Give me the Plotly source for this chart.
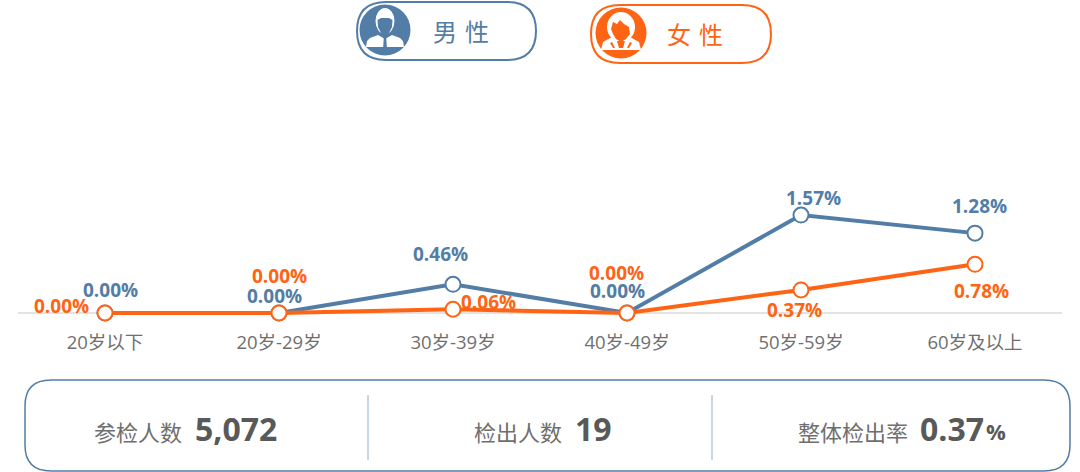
import plotly.graph_objects as go

W, H = 1080, 472
categories = ["20岁以下", "20岁-29岁", "30岁-39岁", "40岁-49岁", "50岁-59岁", "60岁及以上"]
male = [0.00, 0.00, 0.46, 0.00, 1.57, 1.28]
female = [0.00, 0.00, 0.06, 0.00, 0.37, 0.78]
male_offsets = [(5, -23), (-5, -17), (-13, -30), (-10, -22), (12, -17), (4, -27)]
female_offsets = [(-44, -7), (0, -37), (35, -7), (-11, -40), (-7, 20), (6, 27)]
stats = [("参检人数", "5,072", ""), ("检出人数", "19", ""), ("整体检出率", "0.37", "%")]

BLUE = "#527DA6"
ORANGE = "#FF6414"
GRAY = "#6F6F6F"
DARK = "#595959"
FONT = "Open Sans, Noto Sans CJK SC, sans-serif"
CJK = "Noto Sans CJK SC, sans-serif"


def px(x):
    return x / W


def py(y):
    return 1 - y / H


def rrect(x0, y0, x1, y1, r):
    return (f"M{px(x0+r)},{py(y0)} L{px(x1-r)},{py(y0)} Q{px(x1)},{py(y0)} {px(x1)},{py(y0+r)} "
            f"L{px(x1)},{py(y1-r)} Q{px(x1)},{py(y1)} {px(x1-r)},{py(y1)} "
            f"L{px(x0+r)},{py(y1)} Q{px(x0)},{py(y1)} {px(x0)},{py(y1-r)} "
            f"L{px(x0)},{py(y0+r)} Q{px(x0)},{py(y0)} {px(x0+r)},{py(y0)} Z")


def poly(cx, cy, pts):
    return "M" + " L".join(f"{px(cx+a)},{py(cy+b)}" for a, b in pts) + " Z"


def oval(cx, cy, rx, ry, **kw):
    return dict(type="circle", xref="paper", yref="paper", x0=px(cx-rx), x1=px(cx+rx),
                y0=py(cy+ry), y1=py(cy-ry), layer="above", **kw)


def path(d, fill="rgba(0,0,0,0)", color="rgba(0,0,0,0)", width=0):
    return dict(type="path", xref="paper", yref="paper", path=d, fillcolor=fill, layer="above",
                line=dict(color=color, width=width))


shapes = []
# legend pills
shapes.append(path(rrect(357, 2, 536, 60, 29), color=BLUE, width=2))
shapes.append(path(rrect(591, 5, 771, 63, 29), color=ORANGE, width=2))

# male icon: shoulders with tie, hair outline, face
cx, cy = 385, 30
shapes.append(oval(cx, cy, 25.5, 25.5, fillcolor=BLUE, line=dict(width=0)))
shapes.append(path(poly(cx, cy, [(-19, 17), (-18, 11), (-15, 8), (-7, 5), (0, 9), (7, 5), (15, 8), (18, 11), (19, 17)]), fill="white"))
shapes.append(oval(cx, cy - 9, 9.5, 13, fillcolor="white", line=dict(width=0)))
shapes.append(path(poly(cx, cy, [(-7.5, -10), (-4, -12), (4, -12), (7.5, -10), (7, -3), (4, 3), (0, 6), (-4, 3), (-7, -3)]), fill=BLUE))
shapes.append(path(poly(cx, cy, [(-1.2, 7), (1.2, 7), (1.8, 17), (-1.8, 17)]), fill=BLUE))

# female icon: round hair, swept fringe, collar
cx, cy = 621, 33
shapes.append(oval(cx, cy, 25.5, 25.5, fillcolor=ORANGE, line=dict(width=0)))
shapes.append(oval(cx, cy - 6, 14, 15, fillcolor="white", line=dict(width=0)))
shapes.append(path(poly(cx, cy, [(-20, 17), (-18, 9), (-9, 4), (9, 4), (18, 9), (20, 17)]), fill="white"))
shapes.append(path(poly(cx, cy, [(-8, -11), (-4, -9), (-1, -13), (3, -9), (8, -6), (9, 1), (5, 6), (0, 9), (-5, 6), (-8, 1), (-10, -4)]), fill=ORANGE))
shapes.append(path(poly(cx, cy, [(-4, 8), (4, 8), (2, 15), (-2, 15)]), fill=ORANGE))
shapes.append(path(poly(cx, cy, [(-11, 10), (-9, 9), (-6, 15), (-8, 15)]), fill=ORANGE))
shapes.append(path(poly(cx, cy, [(11, 10), (9, 9), (6, 15), (8, 15)]), fill=ORANGE))

# stats box and dividers
shapes.append(path(rrect(25, 380, 1070, 471, 26), color=BLUE, width=1.5))
for dx in (368, 712):
    shapes.append(dict(type="line", xref="paper", yref="paper", x0=px(dx), x1=px(dx),
                       y0=py(395), y1=py(460), line=dict(color="#8FAECB", width=1)))

annotations = []


def add_text(x, y, text, size, color, family=FONT, bold=False):
    annotations.append(dict(xref="paper", yref="paper", x=px(x), y=py(y), text=f"<b>{text}</b>" if bold else text,
                            showarrow=False, xanchor="center", yanchor="middle",
                            font=dict(size=size, color=color, family=family)))


add_text(461, 30, "男\u2004性", 24, BLUE, CJK)
add_text(695, 33, "女\u2004性", 24, ORANGE, CJK)

stat_pos = [(138, 236), (518, 593), (853, 952)]
for (label, value, unit), (lx, vx) in zip(stats, stat_pos):
    add_text(lx, 431, label, 22, GRAY, CJK)
    add_text(vx, 428, value, 32, DARK, bold=True)
    if unit:
        add_text(996, 431, unit, 22, DARK, bold=True)

for values, offsets, color in ((male, male_offsets, BLUE), (female, female_offsets, ORANGE)):
    for c, v, (dx, dy) in zip(categories, values, offsets):
        annotations.append(dict(xref="x", yref="y", x=c, y=v, text=f"<b>{v:.2f}%</b>", showarrow=False,
                                xshift=dx, yshift=-dy, xanchor="center", yanchor="middle",
                                font=dict(size=19, color=color, family=FONT)))

fig = go.Figure()
for name, values, color in (("男性", male, BLUE), ("女性", female, ORANGE)):
    fig.add_trace(go.Scatter(x=categories, y=values, name=name, mode="lines+markers", cliponaxis=False,
                             line=dict(color=color, width=4),
                             marker=dict(size=15, color="white", line=dict(color=color, width=2))))

fig.update_layout(
    width=W, height=H, margin=dict(l=0, r=0, t=0, b=0), autosize=False,
    paper_bgcolor="white", plot_bgcolor="white", showlegend=False,
    shapes=shapes, annotations=annotations,
    xaxis=dict(domain=[px(18), px(1062)], type="category", categoryorder="array", categoryarray=categories,
               range=[-0.5, 5.5], showgrid=False, zeroline=False, showline=False,
               ticks="outside", ticklen=3, tickcolor="rgba(0,0,0,0)", automargin=False,
               tickfont=dict(size=18.5, color=GRAY, family=FONT)),
    yaxis=dict(domain=[py(323), py(100)], range=[-10 / 62.4, 213 / 62.4], visible=False, automargin=False,
               zeroline=False, showgrid=False),
)
fig.add_shape(type="line", xref="paper", yref="y", x0=px(18), x1=px(1062), y0=0, y1=0,
              line=dict(color="#E3E3E3", width=2), layer="below")
fig.write_html("out.html", config=dict(displayModeBar=False),
               post_script="document.body.style.margin='0';document.documentElement.style.overflow='hidden';")
